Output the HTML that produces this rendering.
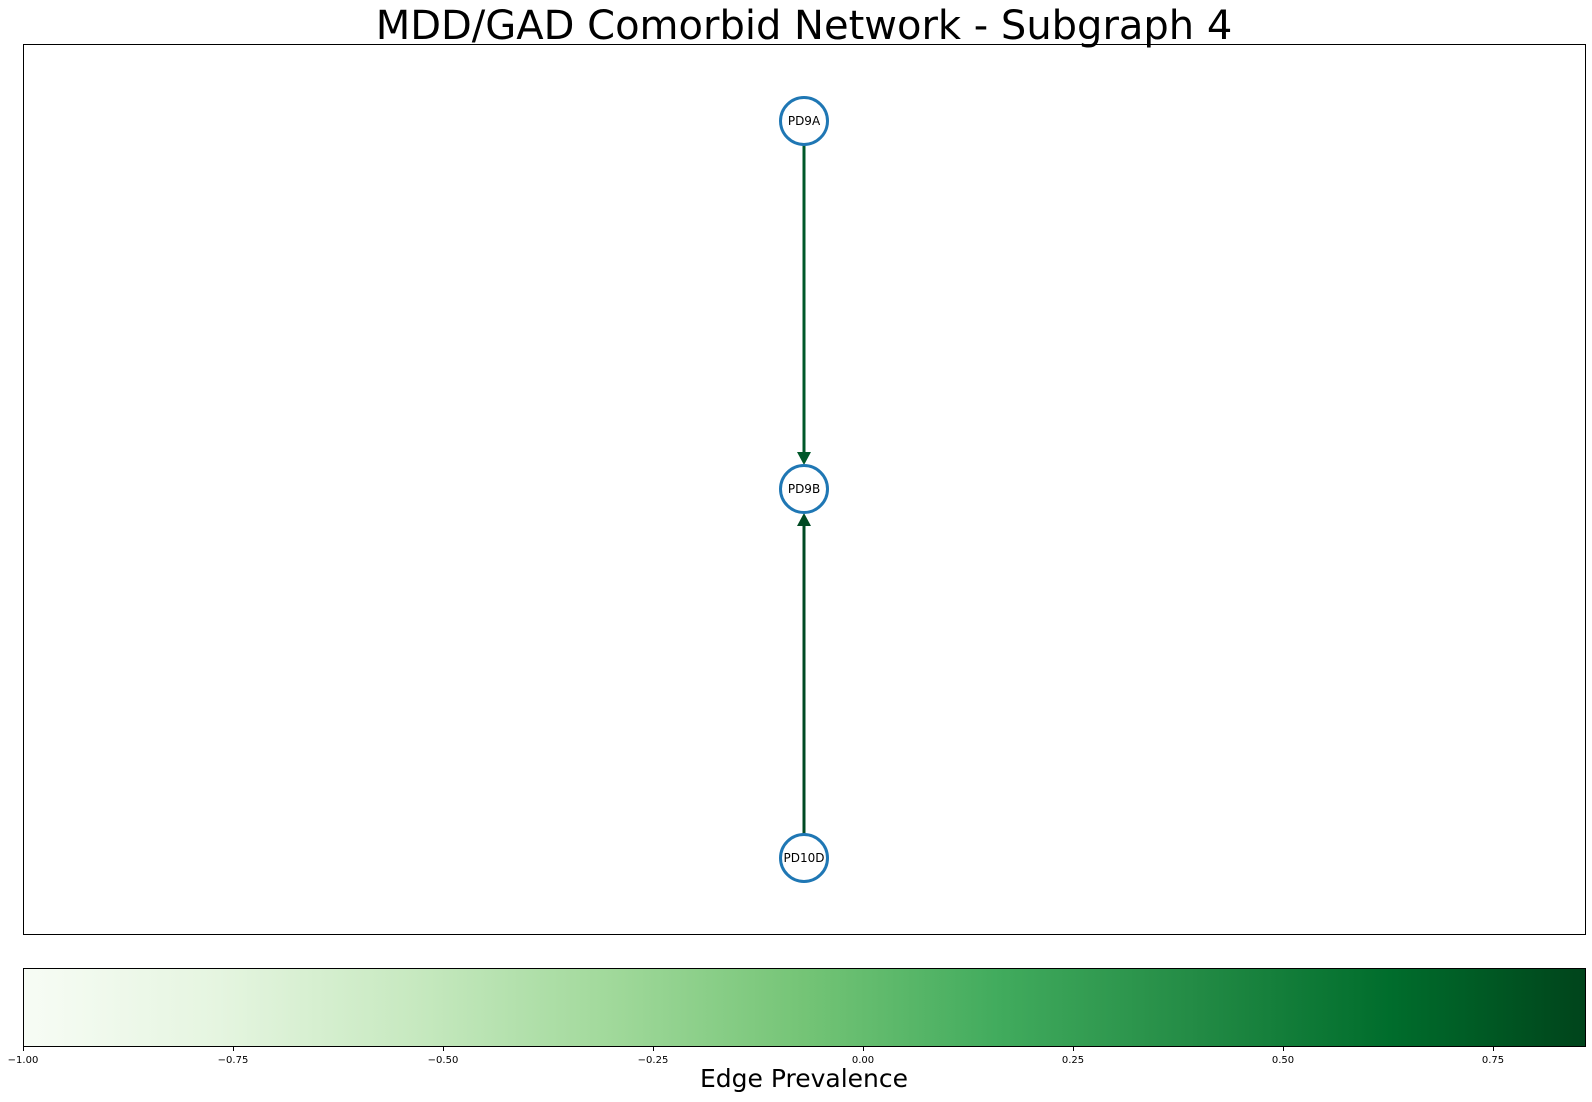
<!DOCTYPE html>
<html><head><style>
body{margin:0;background:#fff;width:1592px;height:1098px;overflow:hidden;font-family:"DejaVu Sans","Liberation Sans",sans-serif}
</style></head><body>
<svg width="1592" height="1098" xmlns="http://www.w3.org/2000/svg" font-family="DejaVu Sans, Liberation Sans, sans-serif">
<defs>
<linearGradient id="g2" x1="0" x2="1">
<stop offset="0" stop-color="#f7fcf5"/>
<stop offset="0.125" stop-color="#e5f5e0"/>
<stop offset="0.25" stop-color="#c7e9c0"/>
<stop offset="0.375" stop-color="#a1d99b"/>
<stop offset="0.5" stop-color="#74c476"/>
<stop offset="0.625" stop-color="#41ab5d"/>
<stop offset="0.75" stop-color="#238b45"/>
<stop offset="0.875" stop-color="#006d2c"/>
<stop offset="1" stop-color="#00441b"/>
</linearGradient>
</defs>
<text x="804" y="39" font-size="40" text-anchor="middle" fill="#000">MDD/GAD Comorbid Network - Subgraph 4</text>
<rect x="23.5" y="44.5" width="1562" height="890" fill="none" stroke="#000" stroke-width="1"/>
<line x1="804" y1="145" x2="804" y2="455" stroke="#00582a" stroke-width="3"/>
<polygon points="797,452 811,452 804,465" fill="#00582a"/>
<line x1="804" y1="834" x2="804" y2="523" stroke="#004a23" stroke-width="3"/>
<polygon points="797,526 811,526 804,513" fill="#004a23"/>
<g fill="#fff" stroke="#1f77b4" stroke-width="3">
<circle cx="804" cy="121" r="23.5"/>
<circle cx="804" cy="489" r="23.5"/>
<circle cx="804" cy="858" r="23.5"/>
</g>
<g font-size="12" text-anchor="middle" fill="#000">
<text x="804" y="125">PD9A</text>
<text x="804" y="493">PD9B</text>
<text x="804" y="862">PD10D</text>
</g>
<rect x="23.5" y="968.5" width="1562" height="78" fill="url(#g2)"/>
<rect x="23.5" y="968.5" width="1562" height="78" fill="none" stroke="#000" stroke-width="1"/>
<g stroke="#000" stroke-width="1">
<line x1="23.5" y1="1047" x2="23.5" y2="1051"/>
<line x1="233.5" y1="1047" x2="233.5" y2="1051"/>
<line x1="443.5" y1="1047" x2="443.5" y2="1051"/>
<line x1="653.5" y1="1047" x2="653.5" y2="1051"/>
<line x1="863.5" y1="1047" x2="863.5" y2="1051"/>
<line x1="1073.5" y1="1047" x2="1073.5" y2="1051"/>
<line x1="1283.5" y1="1047" x2="1283.5" y2="1051"/>
<line x1="1493.5" y1="1047" x2="1493.5" y2="1051"/>
</g>
<g font-size="10" text-anchor="middle" fill="#000">
<text x="23" y="1063">−1.00</text>
<text x="233" y="1063">−0.75</text>
<text x="443" y="1063">−0.50</text>
<text x="653" y="1063">−0.25</text>
<text x="863" y="1063">0.00</text>
<text x="1073" y="1063">0.25</text>
<text x="1283" y="1063">0.50</text>
<text x="1493" y="1063">0.75</text>
</g>
<text x="804" y="1087" font-size="25" text-anchor="middle" fill="#000">Edge Prevalence</text>
</svg>
</body></html>
